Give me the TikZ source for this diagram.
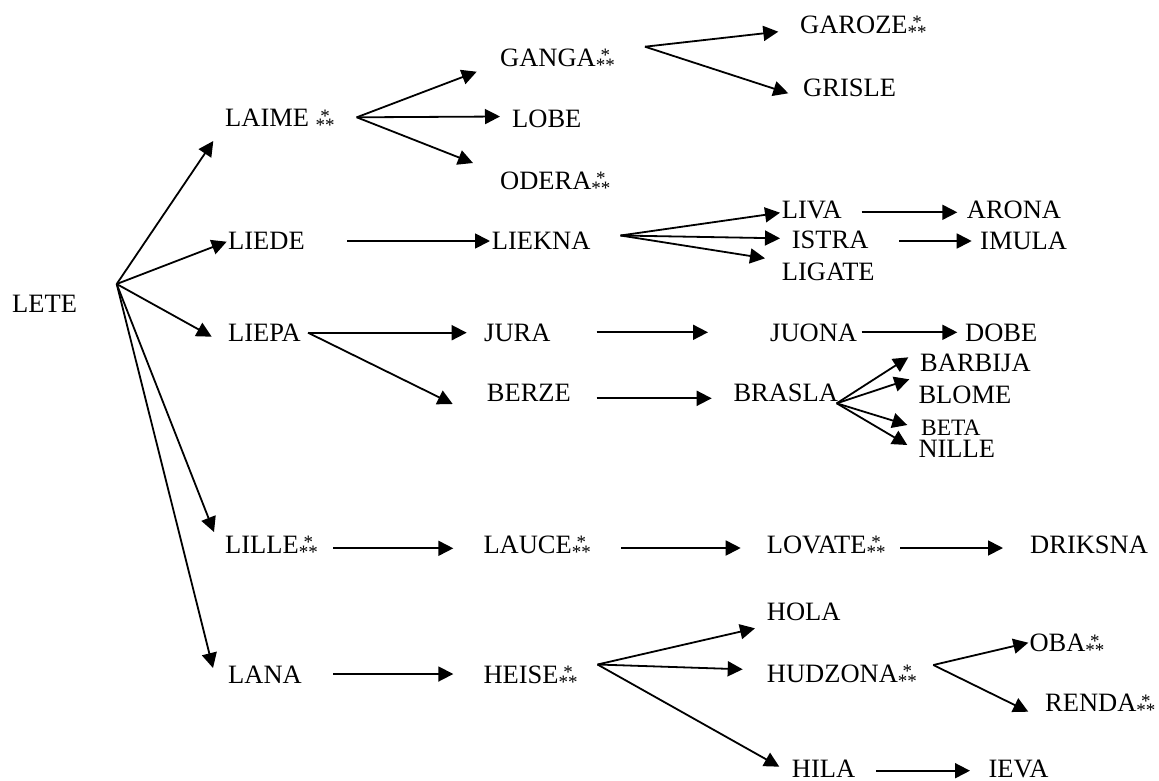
\documentclass[tikz,border=0pt]{standalone}
\usepackage{fontspec}
\setmainfont{Liberation Serif}
\usetikzlibrary{arrows.meta}
\newcommand\astr{{\fontsize{19}{19}\selectfont\raisebox{-5pt}{**}\llap{\raisebox{4.6pt}{*}\hspace{4.75pt}}}}
\begin{document}
\begin{tikzpicture}[x=1pt,y=-1pt,
  lbl/.style={anchor=base west,inner sep=0pt,font=\fontsize{26.5}{30}\selectfont},
  arr/.style={line width=1.8pt,-{Triangle[length=15pt,width=15pt]}}]
\useasboundingbox (0,0) rectangle (1159,780);
% nodes
\node[lbl] (lete) at (12,312) {LETE};
\node[lbl] (laime) at (225,126.7) {LAIME \astr};
\node[lbl] (liede) at (228,249.3) {LIEDE};
\node[lbl] (liepa) at (228,341.7) {LIEPA};
\node[lbl] (lille) at (225,553.3) {LILLE\astr};
\node[lbl] (lana) at (228,683) {LANA};
\node[lbl] (ganga) at (500,66) {GANGA\astr};
\node[lbl] (lobe) at (512,127) {LOBE};
\node[lbl] (odera) at (500,189) {ODERA\astr};
\node[lbl] (garoze) at (800,33.3) {GAROZE\astr};
\node[lbl] (grisle) at (803,96.7) {GRISLE};
\node[lbl] (liekna) at (491.7,249.3) {LIEKNA};
\node[lbl] (liva) at (781.7,218.3) {LIVA};
\node[lbl] (arona) at (966.7,218.3) {ARONA};
\node[lbl] (istra) at (791.7,248.3) {ISTRA};
\node[lbl] (imula) at (980,249.3) {IMULA};
\node[lbl] (ligate) at (781.7,280) {LIGATE};
\node[lbl] (jura) at (484,341.7) {JURA};
\node[lbl] (juona) at (770,341.7) {JUONA};
\node[lbl] (dobe) at (965,341.7) {DOBE};
\node[lbl] (berze) at (486.7,401.7) {BERZE};
\node[lbl] (brasla) at (733.3,401.7) {BRASLA};
\node[lbl] (barbija) at (920,371.7) {BARBIJA};
\node[lbl] (blome) at (918.3,403.3) {BLOME};
\node[lbl,font=\fontsize{23.5}{26}\selectfont] (beta) at (921,435) {BETA};
\node[lbl] (nille) at (918.3,457) {NILLE};
\node[lbl] (lauce) at (483.3,553.3) {LAUCE\astr};
\node[lbl] (lovate) at (766.7,553.3) {LOVATE\astr};
\node[lbl] (driksna) at (1030,553.3) {DRIKSNA};
\node[lbl] (heise) at (483.3,683) {HEISE\astr};
\node[lbl] (hola) at (766.7,620.7) {HOLA};
\node[lbl] (hudzona) at (766.7,682) {HUDZONA\astr};
\node[lbl] (oba) at (1029.3,651.7) {OBA\astr};
\node[lbl] (renda) at (1045,711.7) {RENDA\astr};
\node[lbl] (hila) at (791.7,777) {HILA};
\node[lbl] (ieva) at (988.3,777) {IEVA};
% fan points and arrow ends
\coordinate (f-lete) at (116.7,284);
\coordinate (f-laime) at (356.7,117.3);
\coordinate (f-ganga) at (645,46.7);
\coordinate (f-liekna) at (620.5,235.5);
\coordinate (f-liepa) at (308,332.7);
\coordinate (f-brasla) at (836.7,403.3);
\coordinate (f-heise) at (597.5,664.5);
\coordinate (f-hudzona) at (933.3,665);
\coordinate (s-liede) at (347,241);
\coordinate (s-liva) at (861.7,212.3);
\coordinate (s-istra) at (899.3,241);
\coordinate (s-jura) at (596.7,332.3);
\coordinate (s-juona) at (861.7,332.3);
\coordinate (s-berze) at (596.7,398.3);
\coordinate (s-lille) at (333.3,548.3);
\coordinate (s-lauce) at (621,548);
\coordinate (s-lovate) at (900,548);
\coordinate (s-lana) at (333,674);
\coordinate (s-hila) at (876,770.7);
\coordinate (t-laime) at (213.3,141);
\coordinate (t-liede) at (226.7,241.7);
\coordinate (t-liepa) at (211.7,336.7);
\coordinate (t-lille) at (214,532);
\coordinate (t-lana) at (213,668);
\coordinate (t-ganga) at (476.7,71.7);
\coordinate (t-lobe) at (500,116.5);
\coordinate (t-odera) at (473,163);
\coordinate (t-garoze) at (778.3,31.7);
\coordinate (t-grisle) at (788.3,93.3);
\coordinate (t-liekna) at (490,241);
\coordinate (t-liva) at (780,212.7);
\coordinate (t-istra) at (780,238.3);
\coordinate (t-ligate) at (765,258.3);
\coordinate (t-arona) at (957.3,212.3);
\coordinate (t-imula) at (971.7,241);
\coordinate (t-jura) at (466.7,332.7);
\coordinate (t-berze) at (452.7,404);
\coordinate (t-juona) at (708,332.3);
\coordinate (t-dobe) at (957.3,332.3);
\coordinate (t-brasla) at (711.7,398.3);
\coordinate (t-barbija) at (908.3,357.3);
\coordinate (t-blome) at (909.3,379.3);
\coordinate (t-beta) at (907.3,425);
\coordinate (t-nille) at (907.3,445);
\coordinate (t-lauce) at (453.3,548.3);
\coordinate (t-lovate) at (740.7,548);
\coordinate (t-driksna) at (1003,548);
\coordinate (t-heise) at (453.3,674);
\coordinate (t-hola) at (755,628.3);
\coordinate (t-hudzona) at (742.7,669.3);
\coordinate (t-hila) at (779.3,766.7);
\coordinate (t-oba) at (1028.3,642.7);
\coordinate (t-renda) at (1028.3,711.7);
\coordinate (t-ieva) at (970,770.7);
% connectors
\foreach \t in {laime,liede,liepa,lille,lana}{\draw[arr] (f-lete) -- (t-\t);}
\foreach \t in {ganga,lobe,odera}{\draw[arr] (f-laime) -- (t-\t);}
\foreach \t in {garoze,grisle}{\draw[arr] (f-ganga) -- (t-\t);}
\foreach \t in {liva,istra,ligate}{\draw[arr] (f-liekna) -- (t-\t);}
\foreach \t in {jura,berze}{\draw[arr] (f-liepa) -- (t-\t);}
\foreach \t in {barbija,blome,beta,nille}{\draw[arr] (f-brasla) -- (t-\t);}
\foreach \t in {hola,hudzona,hila}{\draw[arr] (f-heise) -- (t-\t);}
\foreach \t in {oba,renda}{\draw[arr] (f-hudzona) -- (t-\t);}
\draw[arr] (s-liede) -- (t-liekna);
\draw[arr] (s-liva) -- (t-arona);
\draw[arr] (s-istra) -- (t-imula);
\draw[arr] (s-jura) -- (t-juona);
\draw[arr] (s-juona) -- (t-dobe);
\draw[arr] (s-berze) -- (t-brasla);
\draw[arr] (s-lille) -- (t-lauce);
\draw[arr] (s-lauce) -- (t-lovate);
\draw[arr] (s-lovate) -- (t-driksna);
\draw[arr] (s-lana) -- (t-heise);
\draw[arr] (s-hila) -- (t-ieva);
\end{tikzpicture}
\end{document}
